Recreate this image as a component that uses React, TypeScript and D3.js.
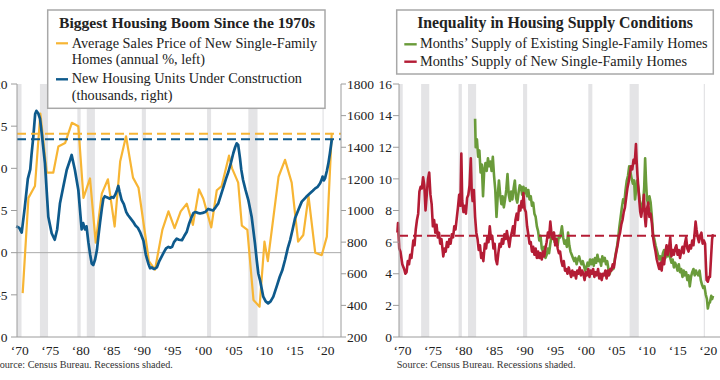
import React from 'react';
import * as d3 from 'd3';

type P = [number, number];

// Average sales price of new single-family homes, annual % change (left axis)
const priceYoY: P[] = [
  [1971.06, -4.8], [1972.0, 6.5], [1973.07, 7.9], [1973.95, 16.5], [1975.0, 9.5], [1976.07, 9.5],
  [1976.9, 12.6], [1978.0, 13.0], [1979.1, 15.4], [1980.16, 15.0], [1981.0, 6.5], [1982.07, 8.8],
  [1983.0, 1.2], [1984.0, 7.0], [1985.0, 8.7], [1986.1, 3.1], [1987.0, 10.8], [1987.96, 13.8],
  [1989.1, 8.9], [1990.0, 7.7], [1991.06, 2.3], [1991.7, -1.0], [1992.7, -2.0], [1993.9, 2.7],
  [1994.9, 4.9], [1995.9, 2.9], [1996.9, 4.9], [1997.9, 5.8], [1998.9, 3.3], [1999.9, 7.5],
  [2000.6, 6.4], [2001.9, 3.0], [2002.8, 7.4], [2003.6, 7.9], [2004.8, 11.5], [2005.3, 10.0],
  [2006.3, 8.3], [2006.9, 3.2], [2007.8, 2.7], [2008.8, -5.6], [2009.8, -6.4], [2010.6, 1.3],
  [2011.15, -1.0], [2012.9, 9.0], [2013.96, 11.0], [2015.05, 8.3], [2016.1, 1.3], [2016.95, 2.1],
  [2017.8, 6.7], [2018.9, 0.0], [2019.96, -0.3], [2020.8, 1.9], [2021.6, 14.2],
];

// New housing units under construction, thousands (right axis)
const underConstruction: P[] = [
  [1970.0, 900], [1970.5, 890], [1970.9, 860], [1971.4, 1020], [1971.9, 1200], [1972.3, 1260],
  [1972.5, 1350], [1972.8, 1467], [1973.1, 1610], [1973.3, 1630], [1973.6, 1615], [1973.9, 1580],
  [1974.2, 1480], [1974.7, 1300], [1975.25, 960], [1975.8, 856], [1976.3, 815], [1976.7, 880],
  [1977.16, 1046], [1977.7, 1150], [1978.26, 1256], [1978.8, 1319], [1979.07, 1351], [1979.6, 1256],
  [1980.16, 1130], [1980.7, 880], [1980.95, 920], [1981.25, 880], [1981.5, 900], [1981.8, 800],
  [1982.1, 720], [1982.35, 665], [1982.6, 655], [1982.9, 690], [1983.2, 750], [1983.45, 840],
  [1983.7, 920], [1984.0, 1010], [1984.25, 1075], [1984.5, 1090], [1984.7, 1085], [1985.0, 1080],
  [1985.3, 1075], [1985.6, 1085], [1985.9, 1080], [1986.2, 1100], [1986.5, 1130], [1986.7, 1155],
  [1986.9, 1120], [1987.25, 1065], [1987.6, 1040], [1988.0, 990], [1988.3, 970], [1988.7, 950],
  [1989.1, 930], [1989.5, 905], [1989.9, 890], [1990.3, 860], [1990.8, 810], [1991.2, 720],
  [1991.6, 665], [1991.9, 635], [1992.2, 640], [1992.5, 630], [1992.8, 635], [1993.0, 640],
  [1993.4, 680], [1993.8, 710], [1994.2, 740], [1994.5, 760], [1994.9, 770], [1995.2, 765],
  [1995.5, 770], [1995.8, 800], [1996.25, 822], [1996.6, 815], [1997.1, 812], [1997.5, 840],
  [1997.9, 866], [1998.3, 920], [1998.7, 960], [1999.0, 985], [1999.3, 990], [1999.7, 985],
  [2000.06, 981], [2000.5, 985], [2000.9, 990], [2001.4, 1010], [2001.8, 1005], [2002.2, 1000],
  [2002.6, 1020], [2003.05, 1045], [2003.5, 1100], [2003.9, 1150], [2004.3, 1200], [2004.7, 1245],
  [2005.1, 1300], [2005.5, 1362], [2005.8, 1400], [2006.06, 1425], [2006.3, 1415], [2006.6, 1330],
  [2006.8, 1260], [2007.1, 1193], [2007.5, 1130], [2007.96, 1066], [2008.5, 961], [2009.05, 790],
  [2009.33, 687], [2009.6, 600], [2009.87, 560], [2010.4, 455], [2010.8, 425], [2011.2, 413],
  [2011.6, 425], [2012.05, 455], [2012.6, 520], [2013.1, 581], [2013.5, 620], [2013.96, 687],
  [2014.4, 760], [2014.8, 813], [2015.2, 880], [2015.6, 951], [2016.2, 1010], [2016.7, 1056],
  [2017.4, 1085], [2018.05, 1109], [2018.5, 1125], [2018.9, 1140], [2019.3, 1150], [2019.7, 1172],
  [2020.0, 1200], [2020.1, 1214], [2020.3, 1190], [2020.5, 1203], [2020.8, 1250], [2021.05, 1298],
  [2021.3, 1360], [2021.6, 1446],
];

// Months' supply of existing single-family homes
const existingSupply: P[] = [
  [1982.7, 13.8], [1982.8, 12.0], [1983.0, 12.5], [1983.2, 11.4], [1983.4, 11.8], [1983.6, 10.4],
  [1983.8, 10.9], [1984.0, 8.9], [1984.2, 10.6], [1984.4, 11.0], [1984.6, 10.5], [1984.8, 11.3],
  [1985.0, 10.8], [1985.2, 11.1], [1985.4, 10.5], [1985.6, 11.4], [1985.8, 10.2], [1986.0, 9.3],
  [1986.2, 7.6], [1986.4, 8.9], [1986.6, 9.9], [1986.8, 9.0], [1987.0, 8.4], [1987.2, 8.9],
  [1987.4, 8.2], [1987.6, 8.7], [1987.8, 9.3], [1988.0, 10.3], [1988.2, 9.0], [1988.4, 8.6],
  [1988.6, 9.2], [1988.8, 8.7], [1989.0, 9.4], [1989.2, 9.9], [1989.4, 8.8], [1989.6, 8.5],
  [1989.8, 9.1], [1990.0, 9.6], [1990.2, 9.5], [1990.4, 9.0], [1990.6, 9.5], [1990.8, 9.1],
  [1991.0, 9.4], [1991.2, 8.9], [1991.4, 9.3], [1991.6, 8.7], [1991.8, 8.9], [1992.0, 8.3],
  [1992.2, 8.5], [1992.4, 7.8], [1992.6, 7.6], [1992.8, 7.0], [1993.0, 6.7], [1993.2, 6.1],
  [1993.4, 6.4], [1993.6, 5.6], [1993.8, 5.4], [1994.0, 5.7], [1994.2, 5.0], [1994.4, 5.2],
  [1994.6, 5.6], [1994.8, 5.3], [1995.0, 5.9], [1995.2, 6.4], [1995.5, 6.6], [1995.7, 6.0],
  [1996.0, 6.2], [1996.2, 5.8], [1996.4, 6.4], [1996.6, 6.3], [1996.9, 7.0], [1997.1, 6.3],
  [1997.3, 5.9], [1997.5, 6.1], [1997.7, 5.7], [1997.9, 6.6], [1998.1, 5.8], [1998.3, 5.4],
  [1998.5, 5.2], [1998.7, 5.0], [1998.9, 4.8], [1999.1, 5.0], [1999.3, 4.6], [1999.5, 4.9],
  [1999.7, 5.1], [1999.9, 4.8], [2000.1, 4.6], [2000.3, 4.8], [2000.5, 4.5], [2000.7, 4.2],
  [2000.9, 4.4], [2001.1, 4.7], [2001.3, 4.5], [2001.5, 4.9], [2001.7, 4.6], [2001.9, 4.9],
  [2002.1, 4.5], [2002.3, 5.0], [2002.5, 4.7], [2002.7, 5.2], [2002.9, 4.8], [2003.1, 4.9],
  [2003.3, 4.5], [2003.5, 5.1], [2003.7, 4.8], [2003.9, 5.0], [2004.1, 4.6], [2004.3, 4.8],
  [2004.5, 4.3], [2004.7, 4.0], [2004.9, 4.2], [2005.1, 4.4], [2005.3, 4.3], [2005.5, 4.8],
  [2005.7, 5.3], [2005.9, 5.7], [2006.1, 6.3], [2006.3, 7.0], [2006.5, 7.6], [2006.7, 8.2],
  [2006.9, 8.7], [2007.1, 8.5], [2007.3, 9.3], [2007.5, 9.9], [2007.7, 10.2], [2007.9, 10.8],
  [2008.1, 10.4], [2008.3, 10.0], [2008.5, 9.7], [2008.7, 9.9], [2008.85, 8.7], [2009.0, 9.2],
  [2009.2, 9.9], [2009.4, 9.4], [2009.6, 8.7], [2009.8, 8.3], [2010.0, 8.0], [2010.2, 8.6],
  [2010.35, 9.5], [2010.5, 11.3], [2010.65, 9.8], [2010.8, 8.7], [2011.0, 8.4], [2011.2, 8.9],
  [2011.4, 8.5], [2011.6, 7.6], [2011.8, 6.5], [2012.0, 6.2], [2012.2, 5.8], [2012.4, 5.5],
  [2012.6, 5.2], [2012.8, 4.9], [2013.0, 5.1], [2013.2, 4.8], [2013.4, 5.3], [2013.6, 5.5],
  [2013.8, 5.0], [2014.0, 5.4], [2014.2, 5.1], [2014.4, 5.5], [2014.6, 5.0], [2014.8, 4.7],
  [2015.0, 4.9], [2015.2, 4.4], [2015.4, 4.7], [2015.6, 4.5], [2015.8, 4.2], [2016.0, 4.6],
  [2016.2, 4.1], [2016.4, 4.3], [2016.6, 3.8], [2016.8, 4.2], [2017.0, 3.9], [2017.2, 4.1],
  [2017.4, 3.6], [2017.6, 3.9], [2017.8, 3.2], [2018.0, 3.8], [2018.2, 4.1], [2018.4, 4.3],
  [2018.6, 3.9], [2018.8, 4.2], [2019.0, 4.0], [2019.2, 3.9], [2019.4, 4.2], [2019.6, 3.6],
  [2019.8, 3.3], [2020.0, 3.1], [2020.2, 3.2], [2020.4, 2.7], [2020.6, 2.4], [2020.75, 1.8],
  [2020.9, 2.1], [2021.1, 2.2], [2021.3, 2.6], [2021.45, 2.4], [2021.6, 2.6],
];

// Months' supply of new single-family homes
const newSupply: P[] = [
  [1970.0, 6.6], [1970.1, 7.2], [1970.3, 5.6], [1970.5, 5.4], [1970.8, 4.6], [1971.1, 4.3],
  [1971.3, 4.0], [1971.5, 4.1], [1971.7, 4.8], [1971.9, 4.6], [1972.1, 5.2], [1972.3, 5.0],
  [1972.6, 6.1], [1972.8, 5.8], [1973.0, 6.8], [1973.2, 7.4], [1973.4, 7.8], [1973.6, 9.2],
  [1973.8, 9.5], [1974.0, 9.4], [1974.2, 10.1], [1974.4, 9.6], [1974.6, 8.0], [1974.8, 9.0],
  [1975.0, 10.0], [1975.2, 10.4], [1975.4, 9.0], [1975.6, 8.4], [1975.8, 7.0], [1976.0, 7.4],
  [1976.2, 6.6], [1976.4, 7.1], [1976.6, 6.3], [1976.8, 6.6], [1977.0, 5.9], [1977.2, 6.2],
  [1977.5, 5.1], [1977.7, 5.6], [1977.9, 5.4], [1978.1, 6.0], [1978.3, 5.7], [1978.5, 6.2],
  [1978.7, 5.9], [1978.9, 6.5], [1979.1, 6.3], [1979.3, 7.0], [1979.5, 6.8], [1979.7, 7.5],
  [1979.9, 8.2], [1980.1, 9.0], [1980.3, 8.3], [1980.45, 11.6], [1980.6, 8.6], [1980.8, 7.9],
  [1981.0, 8.3], [1981.2, 7.8], [1981.4, 8.8], [1981.6, 9.0], [1981.8, 9.6], [1982.0, 11.3],
  [1982.15, 9.2], [1982.3, 8.6], [1982.5, 9.3], [1982.7, 7.6], [1982.9, 6.6], [1983.1, 6.2],
  [1983.3, 5.5], [1983.5, 5.8], [1983.7, 5.0], [1983.9, 5.3], [1984.05, 4.8], [1984.3, 5.9],
  [1984.5, 5.6], [1984.7, 6.3], [1984.9, 6.0], [1985.1, 7.0], [1985.3, 6.2], [1985.5, 6.4],
  [1985.7, 5.6], [1985.9, 5.9], [1986.1, 4.9], [1986.3, 4.6], [1986.5, 5.3], [1986.7, 5.9],
  [1986.9, 5.7], [1987.1, 6.2], [1987.3, 5.9], [1987.5, 6.5], [1987.7, 6.2], [1987.9, 6.7],
  [1988.1, 6.2], [1988.3, 5.7], [1988.5, 6.3], [1988.7, 6.6], [1988.9, 7.0], [1989.1, 6.5],
  [1989.3, 7.4], [1989.5, 7.8], [1989.7, 7.4], [1989.9, 8.3], [1990.1, 8.0], [1990.3, 8.6],
  [1990.5, 8.2], [1990.6, 9.1], [1990.8, 8.1], [1991.0, 7.9], [1991.2, 7.0], [1991.4, 6.5],
  [1991.6, 5.9], [1991.8, 6.0], [1992.0, 5.4], [1992.2, 5.7], [1992.4, 5.2], [1992.6, 5.6],
  [1992.8, 5.0], [1993.0, 5.4], [1993.2, 5.0], [1993.4, 5.3], [1993.6, 4.9], [1993.8, 5.4],
  [1994.0, 5.1], [1994.2, 5.6], [1994.4, 6.0], [1994.6, 6.6], [1994.8, 6.3], [1995.0, 7.3],
  [1995.2, 6.5], [1995.4, 6.2], [1995.6, 6.6], [1995.8, 5.8], [1996.0, 6.2], [1996.2, 5.6],
  [1996.4, 5.3], [1996.6, 5.4], [1996.8, 4.8], [1997.0, 4.5], [1997.2, 4.8], [1997.4, 4.2],
  [1997.6, 4.3], [1997.8, 4.0], [1998.0, 4.4], [1998.2, 4.1], [1998.4, 3.8], [1998.6, 4.2],
  [1998.8, 3.9], [1999.0, 4.1], [1999.2, 3.7], [1999.4, 4.2], [1999.6, 4.0], [1999.8, 4.4],
  [2000.0, 3.9], [2000.2, 4.2], [2000.4, 4.0], [2000.6, 3.6], [2000.8, 4.1], [2001.0, 3.9],
  [2001.2, 4.3], [2001.4, 3.8], [2001.6, 4.2], [2001.8, 4.0], [2002.0, 4.3], [2002.2, 3.8],
  [2002.4, 4.1], [2002.6, 3.9], [2002.8, 4.3], [2003.0, 3.7], [2003.2, 4.0], [2003.4, 3.6],
  [2003.6, 4.0], [2003.8, 3.9], [2004.0, 4.2], [2004.2, 3.7], [2004.4, 4.2], [2004.6, 3.9],
  [2004.8, 4.3], [2005.0, 4.2], [2005.2, 4.6], [2005.4, 4.4], [2005.6, 5.0], [2005.8, 5.4],
  [2006.0, 5.8], [2006.2, 6.3], [2006.4, 6.6], [2006.6, 7.1], [2006.8, 7.4], [2007.0, 7.9],
  [2007.2, 8.2], [2007.4, 8.8], [2007.6, 9.4], [2007.8, 9.8], [2008.0, 10.3], [2008.2, 10.8],
  [2008.4, 10.6], [2008.6, 11.2], [2008.8, 11.0], [2009.0, 12.2], [2009.1, 11.2], [2009.25, 10.2],
  [2009.4, 9.4], [2009.55, 8.6], [2009.7, 7.9], [2009.85, 7.6], [2010.0, 8.0], [2010.15, 8.2],
  [2010.3, 9.0], [2010.45, 7.6], [2010.6, 7.0], [2010.8, 8.1], [2011.0, 8.5], [2011.2, 7.6],
  [2011.4, 7.8], [2011.6, 7.2], [2011.8, 6.3], [2012.0, 5.8], [2012.2, 5.4], [2012.4, 4.9],
  [2012.6, 4.6], [2012.8, 4.3], [2013.0, 4.7], [2013.2, 4.2], [2013.4, 5.0], [2013.6, 4.6],
  [2013.8, 5.3], [2014.0, 5.8], [2014.2, 5.2], [2014.4, 5.6], [2014.6, 6.3], [2014.8, 5.1],
  [2015.0, 5.5], [2015.2, 5.2], [2015.4, 5.6], [2015.6, 5.8], [2015.8, 5.2], [2016.0, 5.5],
  [2016.2, 5.0], [2016.4, 5.4], [2016.6, 5.7], [2016.8, 5.3], [2017.0, 5.9], [2017.2, 6.3],
  [2017.4, 5.6], [2017.6, 5.4], [2017.8, 5.8], [2018.0, 5.6], [2018.2, 6.1], [2018.4, 5.8],
  [2018.6, 6.6], [2018.75, 7.3], [2018.9, 6.8], [2019.1, 6.3], [2019.3, 6.0], [2019.5, 6.4],
  [2019.7, 6.6], [2019.9, 5.9], [2020.1, 6.1], [2020.3, 5.9], [2020.45, 4.4], [2020.55, 3.6],
  [2020.75, 3.5], [2020.95, 3.8], [2021.1, 3.8], [2021.3, 5.2], [2021.45, 6.2], [2021.6, 6.5],
];

const recessions: P[] = [
  [1969.92, 1970.87], [1973.88, 1975.21], [1980.0, 1980.54], [1981.54, 1982.87],
  [1990.54, 1991.21], [2001.21, 2001.87], [2007.96, 2009.46], [2020.08, 2020.29],
];

const yearTicks = [1970, 1975, 1980, 1985, 1990, 1995, 2000, 2005, 2010, 2015, 2020];
const pctTicks = [-10, -5, 0, 5, 10, 15, 20];
const unitTicks = [200, 400, 600, 800, 1000, 1200, 1400, 1600, 1800];
const monthTicks = [0, 2, 4, 6, 8, 10, 12, 14, 16];

const priceReference = 14.1;
const unitsReference = 1450;
const supplyReference = 6.4;

const YELLOW = '#F7B534';
const BLUE = '#0E5A8C';
const GREEN = '#6A9B3A';
const RED = '#B41C35';
const BAND = '#E4E4E6';
const AXIS = '#9c9c9c';
const TEXT = '#222';
const FONT = '"Liberation Serif", "Times New Roman", serif';

const TOP = 84;
const BOTTOM = 337;

const yrLabel = (y: number) => '\u2018' + String(y).slice(2);

export default function App() {
  // Left panel scales
  const xL = d3.scaleLinear().domain([1970, 2023]).range([16.2, 340.3]);
  const yPct = d3.scaleLinear().domain([-10, 20]).range([BOTTOM, TOP]);
  const yUnits = d3.scaleLinear().domain([200, 1800]).range([BOTTOM, TOP]);
  // Right panel scales
  const xR = d3.scaleLinear().domain([1970, 2023]).range([397.4, 721.6]);
  const yMon = d3.scaleLinear().domain([0, 16]).range([BOTTOM, TOP]);

  const lPct = d3.line<P>().x(d => xL(d[0])).y(d => yPct(d[1]));
  const lUnits = d3.line<P>().x(d => xL(d[0])).y(d => yUnits(d[1]));
  const lMon = d3.line<P>().x(d => xR(d[0])).y(d => yMon(d[1]));

  const lAxisX = 17;
  const rAxisX = 341;
  const r2AxisX = 399;

  return (
    <svg width={720} height={380} style={{ position: 'absolute', left: 0, top: 0, background: '#fff' }}
      fontFamily={FONT}>
      <rect x={0} y={0} width={720} height={380} fill="#fff" />

      {/* ---------- LEFT PANEL ---------- */}
      {recessions.map(([a, b], i) => {
        const x0 = Math.max(xL(a), lAxisX);
        const x1 = Math.min(xL(b), rAxisX);
        return <rect key={'lr' + i} x={x0} y={TOP} width={Math.max(1.2, x1 - x0)} height={BOTTOM - TOP} fill={BAND} />;
      })}
      <line x1={lAxisX} x2={rAxisX} y1={yPct(0)} y2={yPct(0)} stroke="#aaa" strokeWidth={1} />

      <path d={lPct(priceYoY) || ''} fill="none" stroke={YELLOW} strokeWidth={2.2} strokeLinejoin="round" />
      <path d={lUnits(underConstruction) || ''} fill="none" stroke={BLUE} strokeWidth={2.7} strokeLinejoin="round" />
      <line x1={lAxisX} x2={rAxisX} y1={yPct(priceReference)} y2={yPct(priceReference)} stroke={YELLOW} strokeWidth={2} strokeDasharray="9,5" />
      <line x1={lAxisX} x2={rAxisX} y1={yUnits(unitsReference)} y2={yUnits(unitsReference)} stroke={BLUE} strokeWidth={2} strokeDasharray="9,5" />

      {/* left axis */}
      <line x1={lAxisX} x2={lAxisX} y1={TOP} y2={BOTTOM} stroke={AXIS} strokeWidth={1} />
      {pctTicks.map(t => (
        <g key={'pt' + t}>
          <line x1={lAxisX - 6} x2={lAxisX} y1={yPct(t)} y2={yPct(t)} stroke={AXIS} />
          <text x={7.5} y={yPct(t)} dy="0.35em" textAnchor="end" fontSize={13.5} fill={TEXT}>{t}</text>
        </g>
      ))}
      {/* right axis */}
      <line x1={rAxisX} x2={rAxisX} y1={TOP} y2={BOTTOM} stroke={AXIS} strokeWidth={1} />
      {unitTicks.map(t => (
        <g key={'ut' + t}>
          <line x1={rAxisX} x2={rAxisX + 5} y1={yUnits(t)} y2={yUnits(t)} stroke={AXIS} />
          <text x={rAxisX + 6} y={yUnits(t)} dy="0.35em" textAnchor="start" fontSize={13.5} fill={TEXT}>{t}</text>
        </g>
      ))}
      {/* bottom axis */}
      <line x1={lAxisX} x2={rAxisX} y1={BOTTOM} y2={BOTTOM} stroke={AXIS} strokeWidth={1} />
      {yearTicks.map(t => (
        <text key={'lx' + t} x={xL(t) + 3.5} y={354.5} textAnchor="middle" fontSize={13.5} fill={TEXT}>{yrLabel(t)}</text>
      ))}

      {/* left legend */}
      <rect x={47.7} y={10} width={277.3} height={98.3} fill="#fff" stroke="#a8a8a8" strokeWidth={1.5} />
      <text x={187} y={28.3} textAnchor="middle" fontSize={15.6} fontWeight="bold" fill={TEXT}>Biggest Housing Boom Since the 1970s</text>
      <line x1={56} x2={68} y1={43.3} y2={43.3} stroke={YELLOW} strokeWidth={2.2} />
      <text x={71.7} y={47.5} fontSize={14.3} fill={TEXT}>Average Sales Price of New Single-Family</text>
      <text x={71.7} y={64} fontSize={14.3} fill={TEXT}>Homes (annual %, left)</text>
      <line x1={56} x2={68} y1={79.3} y2={79.3} stroke={BLUE} strokeWidth={2.4} />
      <text x={71.7} y={83} fontSize={14.3} fill={TEXT}>New Housing Units Under Construction</text>
      <text x={71.7} y={99.5} fontSize={14.3} fill={TEXT}>(thousands, right)</text>

      <text x={-6} y={368} fontSize={10.2} fill="#333">Source: Census Bureau. Recessions shaded.</text>

      {/* ---------- RIGHT PANEL ---------- */}
      {recessions.map(([a, b], i) => {
        const x0 = Math.max(xR(a), r2AxisX);
        const x1 = Math.min(xR(b), 720);
        return <rect key={'rr' + i} x={x0} y={TOP} width={Math.max(1.2, x1 - x0)} height={BOTTOM - TOP} fill={BAND} />;
      })}
      <path d={lMon(existingSupply) || ''} fill="none" stroke={GREEN} strokeWidth={2.6} strokeLinejoin="round" />
      <path d={lMon(newSupply) || ''} fill="none" stroke={RED} strokeWidth={2.6} strokeLinejoin="round" />
      <line x1={r2AxisX} x2={720} y1={yMon(supplyReference)} y2={yMon(supplyReference)} stroke={RED} strokeWidth={2} strokeDasharray="9,5" />

      <line x1={r2AxisX} x2={r2AxisX} y1={TOP} y2={BOTTOM} stroke={AXIS} strokeWidth={1} />
      {monthTicks.map(t => (
        <g key={'mt' + t}>
          <line x1={r2AxisX - 6} x2={r2AxisX} y1={yMon(t)} y2={yMon(t)} stroke={AXIS} />
          <text x={392} y={yMon(t)} dy="0.35em" textAnchor="end" fontSize={13.5} fill={TEXT}>{t}</text>
        </g>
      ))}
      <line x1={r2AxisX} x2={720} y1={BOTTOM} y2={BOTTOM} stroke={AXIS} strokeWidth={1} />
      {yearTicks.map(t => (
        <text key={'rx' + t} x={xR(t) + 5} y={354.5} textAnchor="middle" fontSize={13.5} fill={TEXT}>{yrLabel(t)}</text>
      ))}

      {/* right legend */}
      <rect x={396.7} y={10} width={316.6} height={64} fill="#fff" stroke="#a8a8a8" strokeWidth={1.5} />
      <text x={555} y={28.3} textAnchor="middle" fontSize={15.8} fontWeight="bold" fill={TEXT}>Inequality in Housing Supply Conditions</text>
      <line x1={404.3} x2={416.7} y1={44.3} y2={44.3} stroke={GREEN} strokeWidth={2.4} />
      <text x={420} y={48.3} fontSize={14.3} fill={TEXT}>Months’ Supply of Existing Single-Family Homes</text>
      <line x1={404.3} x2={416.7} y1={61.7} y2={61.7} stroke={RED} strokeWidth={2.4} />
      <text x={420} y={65.5} fontSize={14.3} fill={TEXT}>Months’ Supply of New Single-Family Homes</text>

      <text x={396.7} y={368} fontSize={10.2} fill="#333">Source: Census Bureau. Recessions shaded.</text>
    </svg>
  );
}
